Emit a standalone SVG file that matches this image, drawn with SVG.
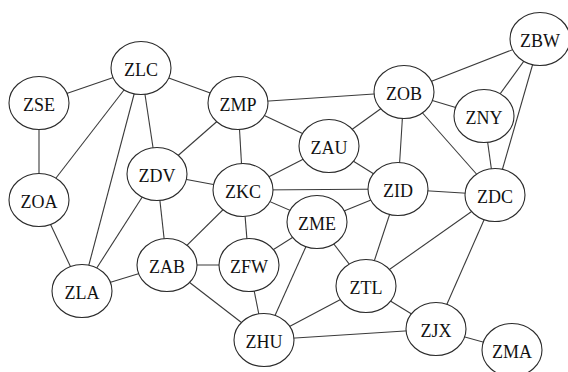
<svg xmlns="http://www.w3.org/2000/svg" width="568" height="372" viewBox="0 0 568 372">
<style>
.e line{stroke:#3a3a3a;stroke-width:1.1}
.n ellipse{fill:#fff;stroke:#2a2a2a;stroke-width:1.1}
.n text{font-family:'Liberation Serif','Times New Roman',serif;font-size:18px;fill:#111;text-anchor:middle}
</style>
<rect width="568" height="372" fill="#fff"/>
<g id="edges" class="e">
<line x1="141" y1="68" x2="39" y2="103"/>
<line x1="141" y1="68" x2="238" y2="103"/>
<line x1="141" y1="68" x2="39" y2="200"/>
<line x1="141" y1="68" x2="82" y2="291"/>
<line x1="141" y1="68" x2="157" y2="174"/>
<line x1="39" y1="103" x2="39" y2="200"/>
<line x1="39" y1="200" x2="82" y2="291"/>
<line x1="238" y1="103" x2="157" y2="174"/>
<line x1="238" y1="103" x2="243" y2="190"/>
<line x1="238" y1="103" x2="329" y2="146"/>
<line x1="238" y1="103" x2="404" y2="92"/>
<line x1="157" y1="174" x2="243" y2="190"/>
<line x1="157" y1="174" x2="167" y2="265"/>
<line x1="157" y1="174" x2="82" y2="291"/>
<line x1="167" y1="265" x2="82" y2="291"/>
<line x1="167" y1="265" x2="243" y2="190"/>
<line x1="167" y1="265" x2="249" y2="265"/>
<line x1="167" y1="265" x2="264" y2="340"/>
<line x1="243" y1="190" x2="249" y2="265"/>
<line x1="243" y1="190" x2="317" y2="222"/>
<line x1="243" y1="190" x2="329" y2="146"/>
<line x1="243" y1="190" x2="398" y2="189"/>
<line x1="329" y1="146" x2="404" y2="92"/>
<line x1="329" y1="146" x2="398" y2="189"/>
<line x1="404" y1="92" x2="540" y2="39"/>
<line x1="404" y1="92" x2="484" y2="116"/>
<line x1="404" y1="92" x2="398" y2="189"/>
<line x1="404" y1="92" x2="495" y2="195"/>
<line x1="540" y1="39" x2="484" y2="116"/>
<line x1="540" y1="39" x2="495" y2="195"/>
<line x1="484" y1="116" x2="495" y2="195"/>
<line x1="398" y1="189" x2="495" y2="195"/>
<line x1="398" y1="189" x2="317" y2="222"/>
<line x1="398" y1="189" x2="366" y2="286"/>
<line x1="495" y1="195" x2="366" y2="286"/>
<line x1="495" y1="195" x2="436" y2="329"/>
<line x1="317" y1="222" x2="249" y2="265"/>
<line x1="317" y1="222" x2="264" y2="340"/>
<line x1="317" y1="222" x2="366" y2="286"/>
<line x1="249" y1="265" x2="264" y2="340"/>
<line x1="264" y1="340" x2="366" y2="286"/>
<line x1="264" y1="340" x2="436" y2="329"/>
<line x1="366" y1="286" x2="436" y2="329"/>
<line x1="436" y1="329" x2="512" y2="350"/>
</g>
<g id="ZLC" class="n"><ellipse cx="141" cy="68" rx="30" ry="26.5"/><text x="141" y="76">ZLC</text></g>
<g id="ZSE" class="n"><ellipse cx="39" cy="103" rx="30" ry="26.5"/><text x="39" y="111">ZSE</text></g>
<g id="ZMP" class="n"><ellipse cx="238" cy="103" rx="30" ry="26.5"/><text x="238" y="111">ZMP</text></g>
<g id="ZOB" class="n"><ellipse cx="404" cy="92" rx="30" ry="26.5"/><text x="404" y="100">ZOB</text></g>
<g id="ZBW" class="n"><ellipse cx="540" cy="39" rx="30" ry="26.5"/><text x="540" y="47">ZBW</text></g>
<g id="ZNY" class="n"><ellipse cx="484" cy="116" rx="30" ry="26.5"/><text x="484" y="124">ZNY</text></g>
<g id="ZAU" class="n"><ellipse cx="329" cy="146" rx="30" ry="26.5"/><text x="329" y="154">ZAU</text></g>
<g id="ZDV" class="n"><ellipse cx="157" cy="174" rx="30" ry="26.5"/><text x="157" y="182">ZDV</text></g>
<g id="ZKC" class="n"><ellipse cx="243" cy="190" rx="30" ry="26.5"/><text x="243" y="198">ZKC</text></g>
<g id="ZID" class="n"><ellipse cx="398" cy="189" rx="30" ry="26.5"/><text x="398" y="197">ZID</text></g>
<g id="ZDC" class="n"><ellipse cx="495" cy="195" rx="30" ry="26.5"/><text x="495" y="203">ZDC</text></g>
<g id="ZOA" class="n"><ellipse cx="39" cy="200" rx="30" ry="26.5"/><text x="39" y="208">ZOA</text></g>
<g id="ZME" class="n"><ellipse cx="317" cy="222" rx="30" ry="26.5"/><text x="317" y="230">ZME</text></g>
<g id="ZAB" class="n"><ellipse cx="167" cy="265" rx="30" ry="26.5"/><text x="167" y="273">ZAB</text></g>
<g id="ZFW" class="n"><ellipse cx="249" cy="265" rx="30" ry="26.5"/><text x="249" y="273">ZFW</text></g>
<g id="ZLA" class="n"><ellipse cx="82" cy="291" rx="30" ry="26.5"/><text x="82" y="299">ZLA</text></g>
<g id="ZTL" class="n"><ellipse cx="366" cy="286" rx="30" ry="26.5"/><text x="366" y="294">ZTL</text></g>
<g id="ZJX" class="n"><ellipse cx="436" cy="329" rx="30" ry="26.5"/><text x="436" y="337">ZJX</text></g>
<g id="ZHU" class="n"><ellipse cx="264" cy="340" rx="30" ry="26.5"/><text x="264" y="348">ZHU</text></g>
<g id="ZMA" class="n"><ellipse cx="512" cy="350" rx="30" ry="26.5"/><text x="512" y="358">ZMA</text></g>
</svg>
